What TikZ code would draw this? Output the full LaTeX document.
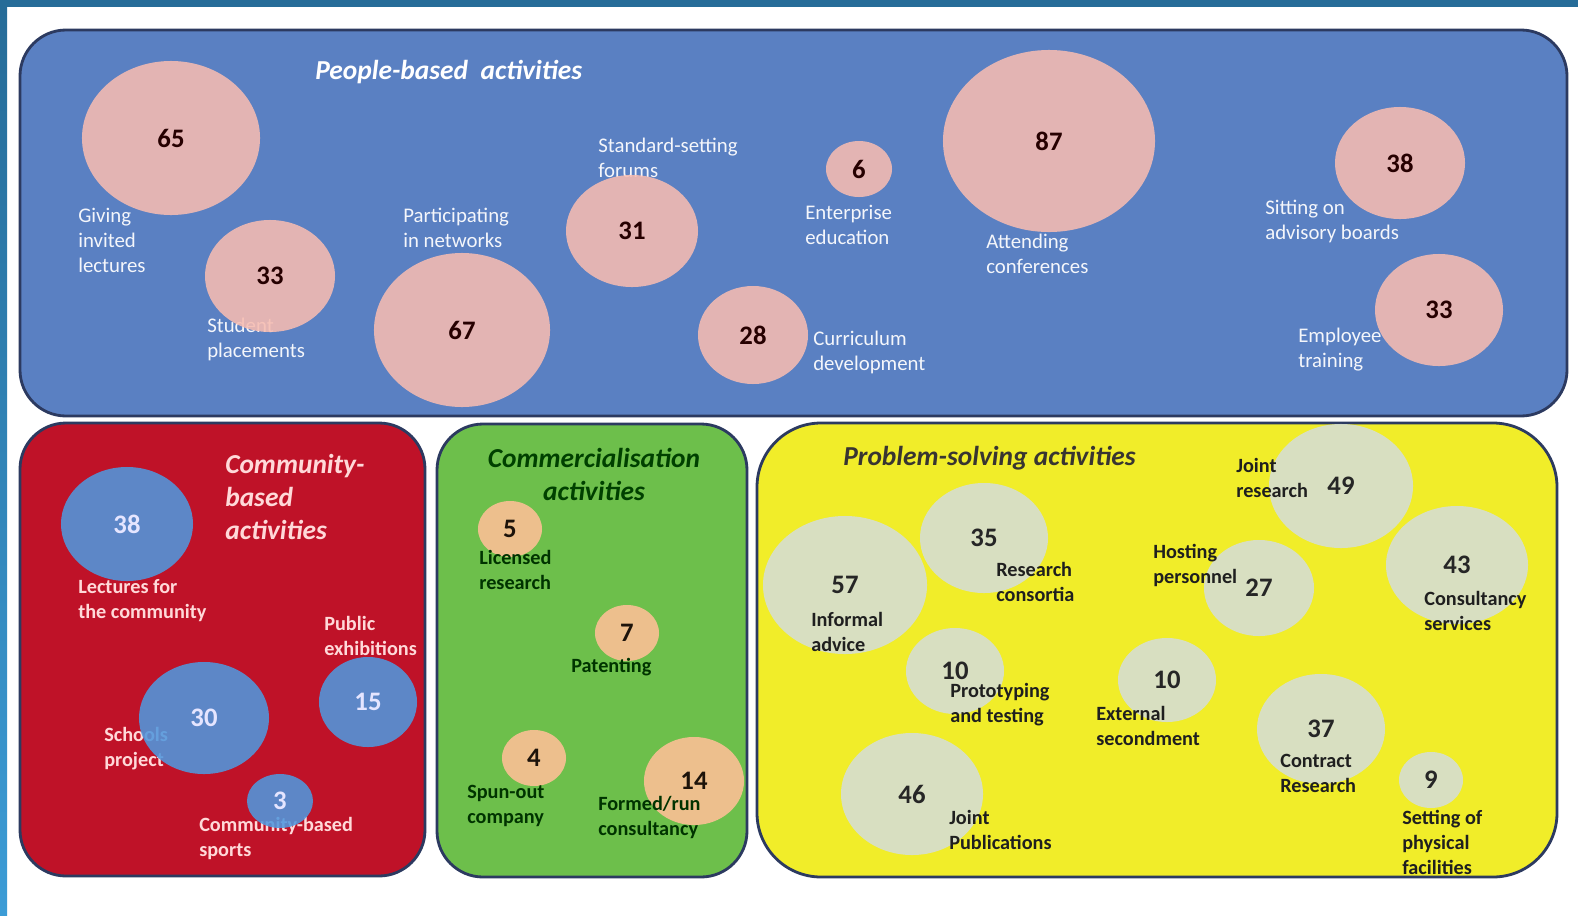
\documentclass[tikz,border=0pt]{standalone}
\usepackage{fontspec}
\setmainfont{Carlito}
\usepackage{tikz}
\usetikzlibrary{shapes.geometric}
\usepackage{xcolor}
\definecolor{stripdark}{RGB}{38,108,152}
\definecolor{stripblue}{RGB}{60,156,214}
\definecolor{rim}{RGB}{44,58,96}
\definecolor{peoplebg}{RGB}{90,128,194}
\definecolor{commbg}{RGB}{191,18,40}
\definecolor{commerbg}{RGB}{109,191,75}
\definecolor{probbg}{RGB}{241,237,41}
\definecolor{pinkbub}{RGB}{247,188,177}
\definecolor{bluebub}{RGB}{80,152,222}
\definecolor{orangebub}{RGB}{255,192,151}
\definecolor{palebub}{RGB}{213,222,215}

\begin{document}
\begin{tikzpicture}[x=0.025cm,y=-0.025cm,
  panel/.style={draw=rim,line width=2pt,rounded corners=1.15cm},
  bub/.style 2 args={ellipse,inner sep=0pt,fill opacity=0.88,text opacity=1,minimum width=#1*0.5mm,minimum height=#2*0.5mm,font=\fontsize{19}{22}\selectfont\bfseries},
  lab/.style={anchor=west,align=left,inner sep=0pt,font=\fontsize{14.8}{17.8}\selectfont},
  labb/.style={lab,font=\fontsize{14.4}{17.8}\selectfont\bfseries},
  ttl/.style={inner sep=0pt,font=\fontsize{19.5}{23.5}\selectfont\bfseries\itshape}]
\useasboundingbox (0,0) rectangle (1578,915);
\fill[white] (0,0) rectangle (1578,915);
\fill[stripdark] (0,0) rectangle (1578,7);
\shade[top color=stripdark,bottom color=stripblue] (0,7) rectangle (7,915);

\draw[panel,fill=peoplebg] (20,30) rectangle (1567,416);
\draw[panel,fill=commbg] (20,423) rectangle (425,876);
\draw[panel,fill=commerbg] (437,424) rectangle (747,877);
\draw[panel,fill=probbg,rounded corners=1.6cm] (757,423) rectangle (1557,877);

% people-based
\node[ttl,anchor=west,text=white] (ttlpeople) at (315,72) {People-based\ \ activities};
\begin{scope}[every node/.append style={text=white!93!peoplebg}]
\node[lab] (lgiving) at (78,240) {Giving\\invited\\lectures};
\node[lab] (lstudent) at (207,339) {Student\\placements};
\node[lab] (lnetworks) at (403,228) {Participating\\in networks};
\node[lab] (lforums) at (598,158) {Standard-setting\\forums};
\node[lab] (lcurric) at (813,352) {Curriculum\\development};
\node[lab] (lenterp) at (805,225) {Enterprise\\education};
\node[lab] (lconf) at (986,254) {Attending\\conferences};
\node[lab] (lboards) at (1265,221) {Sitting on\\advisory boards};
\node[lab] (ltraining) at (1298,350) {Employee\\training};
\end{scope}
\begin{scope}[every node/.append style={fill=pinkbub,text=black!85!red}]
\node[bub={89}{77}] (giving) at (171,138) {65};
\node[bub={65}{56}] (student) at (270,276) {33};
\node[bub={88}{77}] (networks) at (462,330) {67};
\node[bub={66}{56}] (forums) at (632,231) {31};
\node[bub={55}{49}] (curric) at (753,335) {28};
\node[bub={33}{28}] (enterp) at (859,169) {6};
\node[bub={106}{91}] (conf) at (1049,141) {87};
\node[bub={65}{56}] (boards) at (1400,163) {38};
\node[bub={64}{56}] (training) at (1439,310) {33};
\end{scope}

% community-based
\node[ttl,anchor=west,align=left,text=white!85!red] (ttlcomm) at (225,497) {Community-\\based\\activities};
\begin{scope}[every node/.append style={text=white!85!red}]
\node[labb] (llectures) at (78,601) {Lectures for\\the community};
\node[labb] (lschools) at (104,749) {Schools\\project};
\node[labb] (lexhib) at (324,636) {Public\\exhibitions};
\node[labb] (lsports) at (199,838) {Community-based\\sports};
\end{scope}
\begin{scope}[every node/.append style={fill=bluebub,text=white!90!blue,font=\fontsize{19}{22}\selectfont}]
\node[bub={66}{57}] (lectures) at (127,524) {38};
\node[bub={65}{56}] (schools) at (204,718) {30};
\node[bub={49}{45}] (exhib) at (368,702) {15};
\node[bub={33}{27}] (sports) at (280,801) {3};
\end{scope}

% commercialisation
\node[ttl,align=center,text=green!25!black] (ttlcommer) at (594,474) {Commercialisation\\activities};
\begin{scope}[every node/.append style={fill=orangebub,text=black!85!brown}]
\node[bub={32}{28}] (licensed) at (510,529) {5};
\node[bub={32}{28}] (patent) at (627,633) {7};
\node[bub={32}{28}] (spun) at (534,758) {4};
\node[bub={50}{44}] (formed) at (694,781) {14};
\end{scope}
\begin{scope}[every node/.append style={text=green!20!black}]
\node[labb] (llicensed) at (479,570) {Licensed\\research};
\node[labb] (lpatent) at (571,667) {Patenting};
\node[labb] (lspun) at (467,806) {Spun-out\\company};
\node[labb] (lformed) at (598,817) {Formed/run\\consultancy};
\end{scope}

% problem-solving
\node[ttl,anchor=west,text=black!90!yellow] (ttlprob) at (843,458) {Problem-solving activities};
\begin{scope}[every node/.append style={fill=palebub,text=black!85}]
\node[bub={82}{69}] (informal) at (845,585) {57};
\node[bub={64}{55}] (consort) at (984,538) {35};
\node[bub={49}{43}] (proto) at (955,671) {10};
\node[bub={71}{61}] (pubs) at (912,794) {46};
\node[bub={72}{62}] (joint) at (1341,486) {49};
\node[bub={55}{48}] (hosting) at (1259,588) {27};
\node[bub={71}{59}] (consult) at (1457,565) {43};
\node[bub={49}{42}] (second) at (1167,680) {10};
\node[bub={64}{55}] (contract) at (1321,729) {37};
\node[bub={32}{28}] (setting) at (1431,780) {9};
\end{scope}
\begin{scope}[every node/.append style={text=black!88}]
\node[labb] (linformal) at (811,632) {Informal\\advice};
\node[labb] (lconsort) at (996,582) {Research\\consortia};
\node[labb] (lproto) at (950,705) {Prototyping\\and testing};
\node[labb] (lpubs) at (949,830) {Joint\\Publications};
\node[labb] (ljoint) at (1236,478) {Joint\\research};
\node[labb] (lhosting) at (1153,565) {Hosting\\personnel};
\node[labb] (lconsult) at (1424,611) {Consultancy\\services};
\node[labb] (lsecond) at (1096,726) {External\\secondment};
\node[labb] (lcontract) at (1280,773) {Contract\\Research};
\node[labb] (lsetting) at (1402,842) {Setting of\\physical\\facilities};
\end{scope}
\end{tikzpicture}
\end{document}
